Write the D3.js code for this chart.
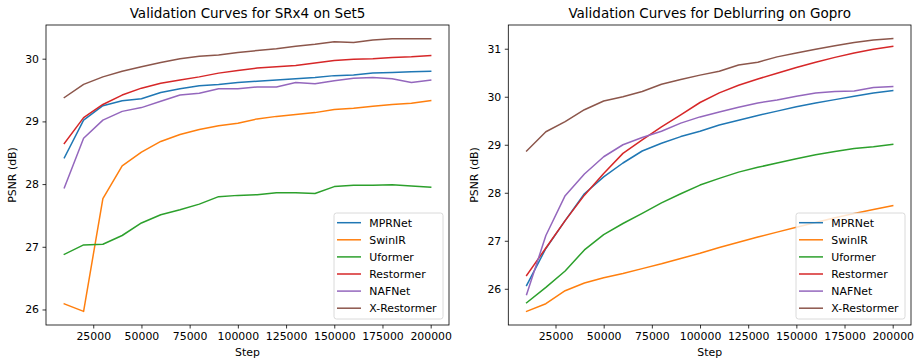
<!DOCTYPE html>
<html>
<head>
<meta charset="utf-8">
<title>Validation Curves</title>
<script src="https://cdn.jsdelivr.net/npm/d3@7"></script>
<style>
  body { margin: 0; background: #fff; }
  text { font-family: "DejaVu Sans", sans-serif; fill: #000; }
</style>
</head>
<body>
<svg width="915" height="358"></svg>
<script>
// training steps (x values)
var steps = [10000, 20000, 30000, 40000, 50000, 60000, 70000, 80000, 90000, 100000,
             110000, 120000, 130000, 140000, 150000, 160000, 170000, 180000, 190000, 200000];
var methods = ["MPRNet", "SwinIR", "Uformer", "Restormer", "NAFNet", "X-Restormer"];
var xTicks = [25000, 50000, 75000, 100000, 125000, 150000, 175000, 200000];

// SRx4 on Set5
var srMPRNet     = [28.42, 29.02, 29.25, 29.33, 29.36, 29.46, 29.52, 29.57, 29.59, 29.62, 29.64, 29.66, 29.68, 29.70, 29.73, 29.74, 29.77, 29.78, 29.79, 29.80];
var srSwinIR     = [26.09, 25.97, 27.77, 28.29, 28.51, 28.68, 28.79, 28.87, 28.93, 28.97, 29.04, 29.08, 29.11, 29.14, 29.19, 29.21, 29.24, 29.27, 29.29, 29.33];
var srUformer    = [26.88, 27.03, 27.04, 27.18, 27.38, 27.51, 27.59, 27.68, 27.80, 27.82, 27.83, 27.86, 27.86, 27.85, 27.96, 27.98, 27.98, 27.99, 27.97, 27.95];
var srRestormer  = [28.65, 29.06, 29.27, 29.42, 29.53, 29.61, 29.66, 29.71, 29.77, 29.81, 29.85, 29.87, 29.89, 29.93, 29.97, 29.99, 30.00, 30.02, 30.03, 30.05];
var srNAFNet     = [27.94, 28.73, 29.02, 29.16, 29.22, 29.32, 29.42, 29.45, 29.52, 29.52, 29.55, 29.55, 29.62, 29.60, 29.65, 29.69, 29.70, 29.68, 29.62, 29.66];
var srXRestormer = [29.38, 29.59, 29.71, 29.80, 29.87, 29.94, 30.00, 30.04, 30.06, 30.10, 30.13, 30.16, 30.20, 30.23, 30.27, 30.26, 30.30, 30.32, 30.32, 30.32];
var srTicks = [26, 27, 28, 29, 30];

// Deblurring on GoPro
var dbMPRNet     = [26.07, 26.84, 27.42, 27.98, 28.33, 28.62, 28.87, 29.03, 29.17, 29.28, 29.41, 29.51, 29.61, 29.70, 29.79, 29.87, 29.94, 30.01, 30.08, 30.13];
var dbSwinIR     = [25.53, 25.69, 25.96, 26.12, 26.23, 26.32, 26.42, 26.52, 26.63, 26.74, 26.86, 26.97, 27.08, 27.18, 27.28, 27.38, 27.48, 27.57, 27.65, 27.73];
var dbUformer    = [25.71, 26.03, 26.37, 26.81, 27.13, 27.36, 27.57, 27.79, 27.98, 28.16, 28.30, 28.43, 28.53, 28.62, 28.71, 28.79, 28.86, 28.92, 28.96, 29.01];
var dbRestormer  = [26.28, 26.85, 27.42, 27.95, 28.40, 28.82, 29.10, 29.37, 29.62, 29.88, 30.08, 30.24, 30.37, 30.49, 30.61, 30.72, 30.82, 30.91, 30.99, 31.05];
var dbNAFNet     = [25.88, 27.11, 27.94, 28.39, 28.75, 29.00, 29.15, 29.28, 29.45, 29.58, 29.68, 29.78, 29.87, 29.93, 30.01, 30.08, 30.11, 30.12, 30.19, 30.21];
var dbXRestormer = [28.87, 29.27, 29.48, 29.73, 29.91, 30.00, 30.11, 30.26, 30.36, 30.45, 30.53, 30.66, 30.72, 30.83, 30.91, 30.99, 31.06, 31.13, 31.18, 31.21];
var dbTicks = [26, 27, 28, 29, 30, 31];

var colors = ["#1f77b4", "#ff7f0e", "#2ca02c", "#d62728", "#9467bd", "#8c564b"];

var svg = d3.select("svg");
var fs = "10.9px";   // tick / label / legend size

// matplotlib style 5% margins
function pad(ext) {
  var r = ext[1] - ext[0];
  return [ext[0] - r * 0.05, ext[1] + r * 0.05];
}

function drawPanel(box, title, series, yTicks) {
  var g = svg.append("g");

  var x = d3.scaleLinear().domain(pad(d3.extent(steps))).range([box.x0, box.x1]);
  var allY = [].concat.apply([], series);
  var y = d3.scaleLinear().domain(pad(d3.extent(allY))).range([box.y1, box.y0]);

  // lines
  var line = d3.line()
    .x(function(d, i) { return x(steps[i]); })
    .y(function(d) { return y(d); });

  g.append("g").selectAll("path")
    .data(series)
    .enter()
    .append("path")
    .attr("d", line)
    .attr("fill", "none")
    .attr("stroke", function(d, i) { return colors[i]; })
    .attr("stroke-width", 1.5)
    .attr("stroke-linejoin", "round")
    .attr("stroke-linecap", "square");

  // axes
  var xAxis = d3.axisBottom(x).tickValues(xTicks).tickSize(3.5).tickPadding(3.5).tickFormat(d3.format("d"));
  var yAxis = d3.axisLeft(y).tickValues(yTicks).tickSize(3.5).tickPadding(3.5).tickFormat(d3.format("d"));

  var gx = g.append("g").attr("transform", "translate(0," + box.y1 + ")").call(xAxis);
  var gy = g.append("g").attr("transform", "translate(" + box.x0 + ",0)").call(yAxis);
  [gx, gy].forEach(function(a) {
    a.select(".domain").remove();
    a.selectAll("line").attr("stroke", "#000").attr("stroke-width", 0.8);
    a.selectAll("text").style("font-size", fs).attr("fill", "#000");
  });

  // frame
  g.append("rect")
    .attr("x", box.x0).attr("y", box.y0)
    .attr("width", box.x1 - box.x0).attr("height", box.y1 - box.y0)
    .attr("fill", "none").attr("stroke", "#000").attr("stroke-width", 0.8);

  // title and labels
  g.append("text")
    .attr("x", (box.x0 + box.x1) / 2).attr("y", 18.3)
    .attr("text-anchor", "middle")
    .style("font-size", "13.5px")
    .text(title);

  g.append("text")
    .attr("x", (box.x0 + box.x1) / 2).attr("y", 356)
    .attr("text-anchor", "middle")
    .style("font-size", fs)
    .text("Step");

  g.append("text")
    .attr("transform", "translate(" + (box.x0 - 30) + "," + ((box.y0 + box.y1) / 2) + ") rotate(-90)")
    .attr("text-anchor", "middle")
    .style("font-size", fs)
    .text("PSNR (dB)");

  // legend, lower right
  var lw = 109, lh = 106;
  var lx = box.x1 - 6 - lw, ly = box.y1 - 6 - lh;
  var lg = g.append("g").attr("transform", "translate(" + lx + "," + ly + ")");
  lg.append("rect")
    .attr("width", lw).attr("height", lh)
    .attr("rx", 2.5)
    .attr("fill", "#fff").attr("fill-opacity", 0.8)
    .attr("stroke", "#d0d0d0").attr("stroke-width", 0.8);
  var items = lg.selectAll(".item")
    .data(methods)
    .enter()
    .append("g")
    .attr("transform", function(d, i) { return "translate(0," + (9.7 + i * 17.1) + ")"; });
  items.append("line")
    .attr("x1", 3).attr("x2", 27)
    .attr("stroke", function(d, i) { return colors[i]; })
    .attr("stroke-width", 1.5);
  items.append("text")
    .attr("x", 35.3).attr("dy", "0.36em")
    .style("font-size", fs)
    .text(function(d) { return d; });
}

drawPanel({x0: 46, x1: 449, y0: 25, y1: 325},
  "Validation Curves for SRx4 on Set5",
  [srMPRNet, srSwinIR, srUformer, srRestormer, srNAFNet, srXRestormer], srTicks);

drawPanel({x0: 508.3, x1: 911, y0: 25, y1: 325},
  "Validation Curves for Deblurring on Gopro",
  [dbMPRNet, dbSwinIR, dbUformer, dbRestormer, dbNAFNet, dbXRestormer], dbTicks);
</script>
</body>
</html>
